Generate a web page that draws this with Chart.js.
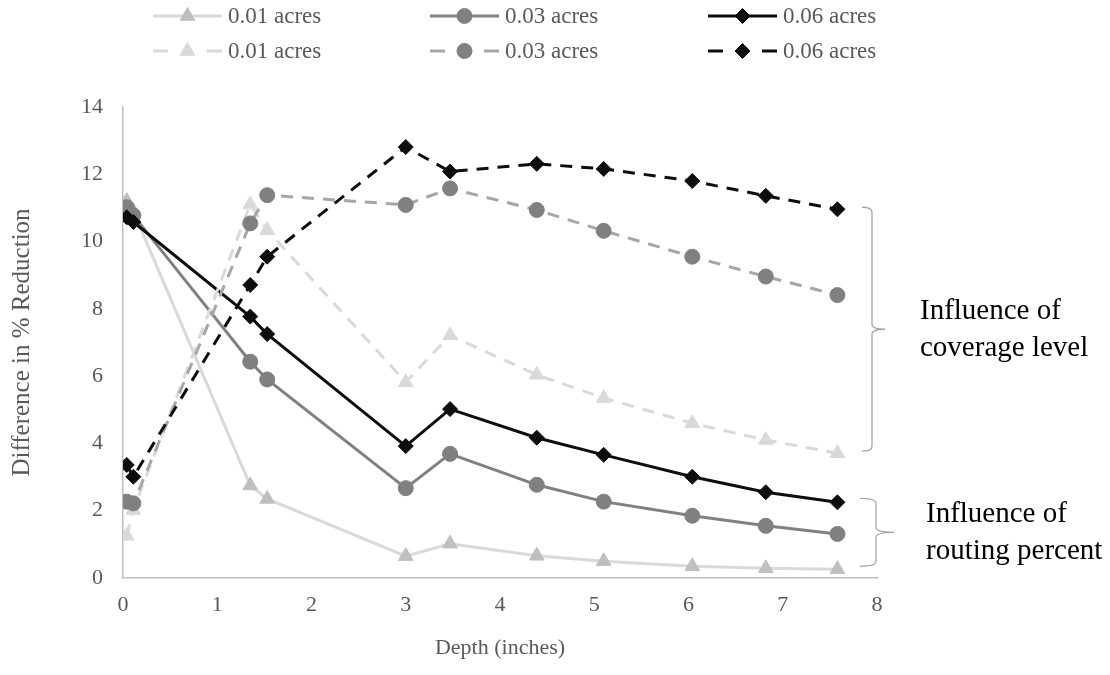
<!DOCTYPE html>
<html>
<head>
<meta charset="utf-8">
<script src="https://cdn.jsdelivr.net/npm/chart.js@4.4.0/dist/chart.umd.min.js"></script>
<style>
  html, body { margin: 0; padding: 0; background: #ffffff; }
</style>
</head>
<body>
<canvas id="chart" width="1110" height="675"></canvas>
<script>
// depth (inches) shared by all six series
const depth = [0.04, 0.11, 1.35, 1.53, 3.0, 3.47, 4.39, 5.1, 6.04, 6.82, 7.58]

// solid lines
const solid001 = [11.2, 10.9, 2.75, 2.35, 0.65, 1.02, 0.66, 0.5, 0.35, 0.29, 0.26]
const solid003 = [11.02, 10.78, 6.43, 5.9, 2.67, 3.69, 2.77, 2.27, 1.85, 1.55, 1.31]
const solid006 = [10.72, 10.58, 7.77, 7.25, 3.92, 5.02, 4.17, 3.66, 3.01, 2.55, 2.25]
// dashed lines
const dashed001 = [1.25, 2.02, 11.1, 10.34, 5.82, 7.21, 6.04, 5.35, 4.6, 4.1, 3.71]
const dashed003 = [2.27, 2.22, 10.54, 11.38, 11.09, 11.58, 10.94, 10.32, 9.55, 8.96, 8.41]
const dashed006 = [3.36, 3.01, 8.71, 9.55, 12.81, 12.08, 12.31, 12.16, 11.8, 11.36, 10.96]

const seriesNames = ["0.01 acres", "0.03 acres", "0.06 acres", "0.01 acres", "0.03 acres", "0.06 acres"]
const xTicks = [0, 1, 2, 3, 4, 5, 6, 7, 8]
const yTicks = [0, 2, 4, 6, 8, 10, 12, 14]

const coverageNote = ["Influence of", "coverage level"]
const routingNote = ["Influence of", "routing percent"]

const allSeries = [solid001, solid003, solid006, dashed001, dashed003, dashed006]

const looks = [
    {line: "#d9d9d9", fill: "#bfbfbf", shape: "triangle", r: 8.5, dash: []},
    {line: "#808080", fill: "#808080", shape: "circle", r: 7.5, dash: []},
    {line: "#0d0d0d", fill: "#0d0d0d", shape: "rectRot", r: 7.5, dash: []},
    {line: "#d9d9d9", fill: "#d9d9d9", shape: "triangle", r: 8.5, dash: [12, 9]},
    {line: "#a6a6a6", fill: "#808080", shape: "circle", r: 7.5, dash: [12, 9]},
    {line: "#0d0d0d", fill: "#0d0d0d", shape: "rectRot", r: 7.5, dash: [12, 9]}
]

const serif = "'Liberation Serif', 'Times New Roman', serif"
const textGrey = "#595959"

function toPoints(values) {
    return values.map((v, i) => ({x: depth[i], y: v}))
}

const datasets = allSeries.map((values, i) => ({
    label: seriesNames[i],
    data: toPoints(values),
    borderColor: looks[i].line,
    backgroundColor: looks[i].fill,
    pointBackgroundColor: looks[i].fill,
    pointBorderColor: looks[i].fill,
    pointBorderWidth: 1,
    pointStyle: looks[i].shape,
    pointRadius: looks[i].r,
    borderWidth: 3,
    borderDash: looks[i].dash,
    tension: 0,
    order: 6 - i
}))

// legend, braces and side notes
const extras = {
    id: "extras",
    afterDraw(chart) {
        const c = chart.ctx
        const area = chart.chartArea
        const yScale = chart.scales.y

        // legend: 3 columns x 2 rows, line + marker like Excel
        const cols = [153, 430, 708]
        const rows = [16, 51]
        const len = 69
        c.save()
        datasets.forEach((ds, i) => {
            const st = looks[i]
            const x0 = cols[i % 3]
            const y = rows[Math.floor(i / 3)]
            c.strokeStyle = st.line
            c.lineWidth = 3
            c.setLineDash([])
            c.beginPath()
            if (st.dash.length) {
                c.moveTo(x0, y); c.lineTo(x0 + 15, y)
                c.moveTo(x0 + len - 15, y); c.lineTo(x0 + len, y)
            } else {
                c.moveTo(x0, y); c.lineTo(x0 + len, y)
            }
            c.stroke()
            c.fillStyle = st.fill
            c.strokeStyle = st.fill
            c.lineWidth = 1
            Chart.helpers.drawPoint(c, {pointStyle: st.shape, radius: st.r, rotation: 0, borderWidth: 1}, x0 + len / 2, y)
            c.fillStyle = textGrey
            c.font = "23px " + serif
            c.textAlign = "left"
            c.textBaseline = "middle"
            c.fillText(ds.label, x0 + len + 6, y + 1)
        })

        function brace(top, bot, hook, spine, tip) {
            const mid = (top + bot) / 2
            c.strokeStyle = "#a6a6a6"
            c.lineWidth = 1.3
            c.setLineDash([])
            c.beginPath()
            c.moveTo(hook, top)
            c.quadraticCurveTo(spine, top, spine, top + 5)
            c.lineTo(spine, mid - 5)
            c.quadraticCurveTo(spine, mid, tip, mid)
            c.moveTo(tip, mid)
            c.quadraticCurveTo(spine, mid, spine, mid + 5)
            c.lineTo(spine, bot - 5)
            c.quadraticCurveTo(spine, bot, hook, bot)
            c.stroke()
            return mid
        }

        function note(lines, x, mid) {
            c.fillStyle = "#000000"
            c.font = "29px " + serif
            c.textAlign = "left"
            c.textBaseline = "middle"
            c.fillText(lines[0], x, mid - 18)
            c.fillText(lines[1], x, mid + 19)
        }

        const last = depth.length - 1
        const r = area.right
        const mid1 = brace(yScale.getPixelForValue(dashed006[last]) - 2, yScale.getPixelForValue(dashed001[last]) - 2, r - 15, r - 5, r + 8)
        note(coverageNote, r + 43, mid1)
        const mid2 = brace(yScale.getPixelForValue(solid006[last]) - 4, yScale.getPixelForValue(solid001[last]) - 3, r - 17, r - 1, r + 17)
        note(routingNote, r + 49, mid2)
        c.restore()
    }
}

const config = {
    type: "line",
    data: {datasets: datasets},
    options: {
        responsive: false,
        animation: false,
        devicePixelRatio: 1,
        layout: {padding: {top: 107, right: 233, left: 0, bottom: 0}},
        plugins: {
            legend: {display: false},
            tooltip: {enabled: false}
        },
        scales: {
            x: {
                type: "linear",
                min: 0,
                max: 8,
                afterBuildTicks: s => { s.ticks = xTicks.map(v => ({value: v})) },
                afterFit: s => { s.height = 97 },
                grid: {display: false, drawTicks: false},
                border: {display: true, color: "#bfbfbf", width: 1.5},
                ticks: {padding: 14, color: textGrey, font: {family: serif, size: 22}, maxRotation: 0},
                title: {display: true, text: "Depth (inches)", color: textGrey, font: {family: serif, size: 22}, padding: {top: 0, bottom: 14}}
            },
            y: {
                min: 0,
                max: 14,
                afterBuildTicks: s => { s.ticks = yTicks.map(v => ({value: v})) },
                afterFit: s => { s.width = 123 },
                grid: {display: false, drawTicks: false},
                border: {display: true, color: "#bfbfbf", width: 1.5},
                ticks: {padding: 20, color: textGrey, font: {family: serif, size: 22}},
                title: {display: true, text: "Difference in % Reduction", color: textGrey, font: {family: serif, size: 25}, padding: {top: 7, bottom: 0}}
            }
        }
    },
    plugins: [extras]
}

const lineChart = new Chart(document.querySelector("#chart").getContext("2d"), config)
</script>
</body>
</html>
